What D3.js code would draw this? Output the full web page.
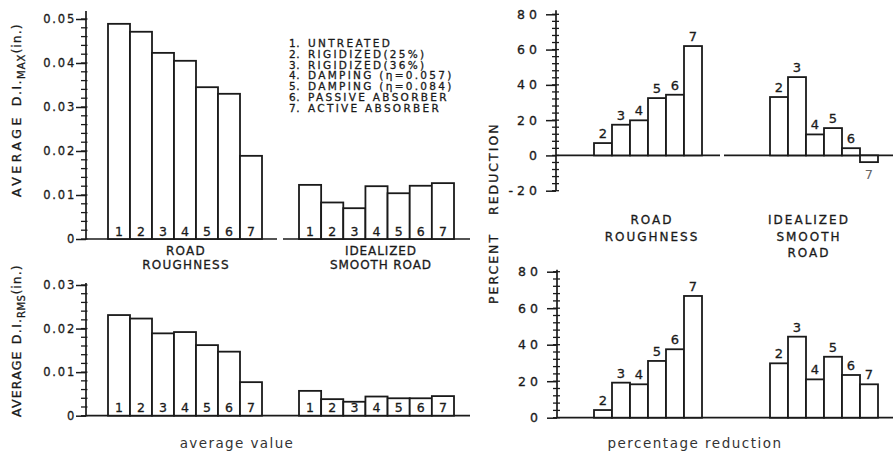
<!DOCTYPE html>
<html>
<head>
<meta charset="utf-8">
<script src="https://cdn.jsdelivr.net/npm/d3@7"></script>
<style>
  body { margin: 0; background: #fff; }
  svg text { font-family: "DejaVu Sans", "Liberation Sans", sans-serif; fill: #1a1a1a; stroke: #1a1a1a; stroke-width: 0.3px; }
  svg text.caption { stroke: none; fill: #333; }
</style>
</head>
<body>
<div id="chart"></div>
<script>
// treatments
const cats = [1, 2, 3, 4, 5, 6, 7];
const redCats = [2, 3, 4, 5, 6, 7];
const legendItems = ["UNTREATED", "RIGIDIZED(25%)", "RIGIDIZED(36%)", "DAMPING (η=0.057)",
  "DAMPING (η=0.084)", "PASSIVE ABSORBER", "ACTIVE ABSORBER"];

// average D.I. max (in.)
const roughMax = [0.0489, 0.0471, 0.0423, 0.0405, 0.0345, 0.0330, 0.0189];
const smoothMax = [0.0123, 0.0083, 0.0070, 0.0120, 0.0104, 0.0121, 0.0127];
// average D.I. rms (in.)
const roughRms = [0.0231, 0.0223, 0.0189, 0.0192, 0.0162, 0.0147, 0.0077];
const smoothRms = [0.0057, 0.0038, 0.0032, 0.0044, 0.0040, 0.0040, 0.0045];
// percent reduction vs untreated
const roughMaxRed = [7.0, 17.4, 19.9, 32.5, 34.4, 62.0];
const smoothMaxRed = [33.1, 44.4, 11.9, 15.5, 4.1, -3.8];
const roughRmsRed = [4.2, 19.2, 18.3, 31.1, 37.5, 66.7];
const smoothRmsRed = [29.8, 44.4, 21.0, 33.4, 23.4, 18.3];

const maxTicks = [0, 0.01, 0.02, 0.03, 0.04, 0.05];
const rmsTicks = [0, 0.01, 0.02, 0.03];
const redTicksTop = [-20, 0, 20, 40, 60, 80];
const redTicksBot = [0, 20, 40, 60, 80];

const W = 893, H = 457;
const svg = d3.select("#chart").append("svg").attr("width", W).attr("height", H);

const ink = "#1a1a1a";

function panel(o) {
  const g = svg.append("g");
  const y = d3.scaleLinear().domain(o.domain).range(o.range);

  // minor ticks, crossing the axis
  const nMinor = Math.round((o.domain[1] - o.domain[0]) / o.minorStep);
  const minorVals = d3.range(nMinor + 1).map(i => o.domain[0] + i * o.minorStep);
  const gm = g.append("g").attr("class", "minor");
  minorVals.forEach(v => {
    gm.append("line")
      .attr("x1", o.axisX - o.minorLeft).attr("x2", o.axisX + o.minorRight)
      .attr("y1", y(v)).attr("y2", y(v))
      .attr("stroke", ink).attr("stroke-width", 1.3);
  });

  // major ticks
  const major = d3.axisLeft(y).tickValues(o.ticks).tickSize(10).tickPadding(o.pad).tickFormat(o.fmt);
  const ga = g.append("g").attr("transform", `translate(${o.axisX},0)`).call(major);
  ga.select(".domain").remove();
  ga.selectAll("line").attr("stroke", ink).attr("stroke-width", 1.5);
  ga.selectAll("text").attr("font-size", o.tickFont).attr("letter-spacing", o.tickSpacing)
    .attr("fill", ink).style("font-family", "'DejaVu Sans', sans-serif");

  // vertical axis line
  g.append("line").attr("x1", o.axisX).attr("x2", o.axisX)
    .attr("y1", y(o.domain[0])).attr("y2", y(o.domain[1]) - o.axisOver)
    .attr("stroke", ink).attr("stroke-width", 1.7);

  // baseline segments
  o.base.forEach(b => {
    g.append("line").attr("x1", b[0]).attr("x2", b[1]).attr("y1", y(0)).attr("y2", y(0))
      .attr("stroke", ink).attr("stroke-width", 1.7);
  });

  // bar groups
  o.groups.forEach(gr => {
    const x = d3.scaleBand().domain(gr.cats).range(gr.range).paddingInner(0);
    const data = gr.cats.map((c, i) => ({ c, v: gr.values[i] }));
    g.selectAll(null).data(data).enter().append("rect")
      .attr("x", d => x(d.c))
      .attr("width", x.bandwidth())
      .attr("y", d => Math.min(y(d.v), y(0)))
      .attr("height", d => Math.abs(y(d.v) - y(0)))
      .attr("fill", "#fff").attr("stroke", ink).attr("stroke-width", 1.8);

    if (o.inside) {
      g.selectAll(null).data(data).enter().append("text")
        .attr("x", d => x(d.c) + x.bandwidth() / 2)
        .attr("y", y(0) - 3.5)
        .attr("text-anchor", "middle").attr("font-size", 12.5)
        .text(d => d.c);
    } else {
      g.selectAll(null).data(data).enter().append("text")
        .attr("x", d => x(d.c) + x.bandwidth() / 2)
        .attr("y", d => d.v >= 0 ? y(d.v) - 5 : y(d.v) + 17)
        .attr("text-anchor", "middle").attr("font-size", 13)
        .style("fill", d => d.v >= 0 ? ink : "#666")
        .style("stroke", d => d.v >= 0 ? ink : "none")
        .text(d => d.c);
    }
  });
  return y;
}

const decFmt = d => d === 0 ? "0" : d3.format(".2f")(d);

// top-left: max
panel({
  domain: [0, 0.05], range: [239, 19], axisX: 86, axisOver: 8,
  ticks: maxTicks, minorStep: 0.002, minorLeft: 5, minorRight: 1.5,
  fmt: decFmt, tickFont: 11.5, tickSpacing: 1.8, pad: 0,
  base: [[86, 277], [283, 470]],
  inside: true,
  groups: [
    { cats: cats, values: roughMax, range: [108, 262] },
    { cats: cats, values: smoothMax, range: [299, 454] }
  ]
});

// bottom-left: rms
panel({
  domain: [0, 0.03], range: [415.7, 285], axisX: 86, axisOver: 2,
  ticks: rmsTicks, minorStep: 0.002, minorLeft: 5, minorRight: 1.5,
  fmt: decFmt, tickFont: 11.5, tickSpacing: 1.8, pad: 0,
  base: [[86, 470]],
  inside: true,
  groups: [
    { cats: cats, values: roughRms, range: [108, 262] },
    { cats: cats, values: smoothRms, range: [299, 454] }
  ]
});

// top-right: max reduction
panel({
  domain: [-20, 80], range: [190.7, 14.3], axisX: 556, axisOver: 4,
  ticks: redTicksTop, minorStep: 4, minorLeft: 4, minorRight: 3,
  fmt: d => String(d), tickFont: 12.5, tickSpacing: 4, pad: 5,
  base: [[556, 720], [724, 893]],
  inside: false,
  groups: [
    { cats: redCats, values: roughMaxRed, range: [594, 702] },
    { cats: redCats, values: smoothMaxRed, range: [770, 878] }
  ]
});

// bottom-right: rms reduction
panel({
  domain: [0, 80], range: [417.7, 271.7], axisX: 557, axisOver: 2,
  ticks: redTicksBot, minorStep: 4, minorLeft: 4, minorRight: 3,
  fmt: d => String(d), tickFont: 12.5, tickSpacing: 4, pad: 5,
  base: [[557, 893]],
  inside: false,
  groups: [
    { cats: redCats, values: roughRmsRed, range: [594, 702] },
    { cats: redCats, values: smoothRmsRed, range: [770, 878] }
  ]
});

// legend
const leg = svg.append("g").attr("font-size", 10.5).attr("letter-spacing", 2.3);
legendItems.forEach((t, i) => {
  const yy = 47 + i * 10.8;
  leg.append("text").attr("x", 289).attr("y", yy).attr("letter-spacing", 0.5).text((i + 1) + ".");
  leg.append("text").attr("x", 308).attr("y", yy).text(t);
});

// group labels
function label(lines, x, y0, dy, size, spacing) {
  const t = svg.append("text").attr("text-anchor", "middle").attr("font-size", size)
    .attr("letter-spacing", spacing);
  lines.forEach((l, i) => t.append("tspan").attr("x", x).attr("y", y0 + i * dy).text(l));
}
label(["ROAD", "ROUGHNESS"], 186, 255, 14, 12, 1.2);
label(["IDEALIZED", "SMOOTH ROAD"], 381, 255, 14, 12, 0.9);
label(["ROAD", "ROUGHNESS"], 652, 224, 16.5, 12, 2);
label(["IDEALIZED", "SMOOTH", "ROAD"], 809, 224, 16.5, 12, 2);

// axis titles (rotated, starting from the bottom)
function vtitle(x, yStart, parts, size) {
  const t = svg.append("text").attr("transform", `translate(${x},${yStart}) rotate(-90)`)
    .attr("font-size", size);
  parts.forEach(p => {
    const s = t.append("tspan").text(p.t).attr("letter-spacing", p.ls || 0);
    if (p.size) s.attr("font-size", p.size);
    if (p.dy) s.attr("dy", p.dy);
    if (p.dx) s.attr("dx", p.dx);
  });
}
vtitle(21, 197, [
  { t: "AVERAGE", ls: 3.5 }, { t: "D.I.", ls: 1.5, dx: 8 },
  { t: "MAX", size: 10, dy: 4, ls: 1 }, { t: "(in.)", dy: -4, ls: 1 }
], 12.5);
vtitle(21, 417, [
  { t: "AVERAGE", ls: 1.2 }, { t: "D.", ls: 1.5, dx: 6 }, { t: "I.", ls: 1 },
  { t: "RMS", size: 10, dy: 4, ls: 0.5 }, { t: "(in.)", dy: -4, ls: 1 }
], 12.5);
vtitle(498, 215, [{ t: "REDUCTION", ls: 2 }], 12.5);
vtitle(498, 304, [{ t: "PERCENT", ls: 2 }], 12.5);

// captions
svg.append("text").attr("class", "caption").attr("x", 237).attr("y", 448).attr("text-anchor", "middle")
  .attr("font-size", 13.5).attr("letter-spacing", 1.4).text("average value");
svg.append("text").attr("class", "caption").attr("x", 695).attr("y", 448).attr("text-anchor", "middle")
  .attr("font-size", 13.5).attr("letter-spacing", 1.5).text("percentage reduction");
</script>
</body>
</html>
